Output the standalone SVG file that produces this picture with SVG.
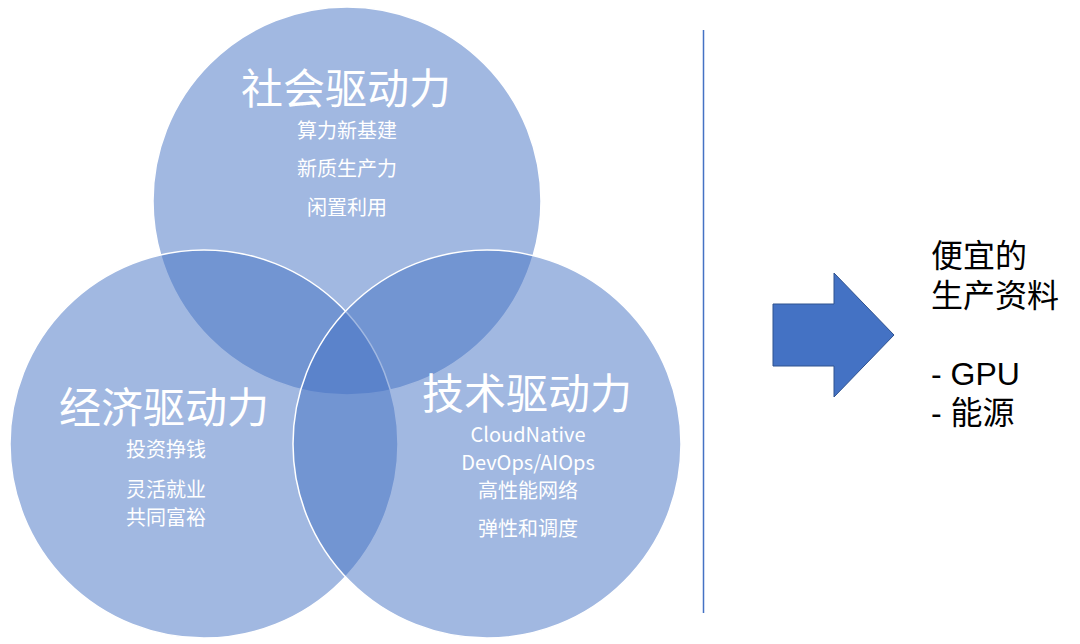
<svg xmlns="http://www.w3.org/2000/svg" width="1080" height="644" viewBox="0 0 1080 644">
<style>
.c{fill:#4472C4;fill-opacity:0.5;stroke:#ffffff;stroke-width:1.5}
.t{font-family:"Noto Sans CJK SC","Liberation Sans",sans-serif;fill:#ffffff;text-anchor:middle}
.big{font-size:42px}
.sm{font-size:20px}
.r{font-family:"Liberation Sans","Noto Sans CJK SC",sans-serif;font-size:32px;fill:#000000}
</style>
<rect width="1080" height="644" fill="#ffffff"/>
<g id="social">
<circle class="c" cx="347" cy="201" r="194"/>
</g>
<g id="economic">
<circle class="c" cx="204" cy="444" r="194"/>
</g>
<g id="tech">
<circle class="c" cx="487" cy="444" r="194"/>
</g>
<g id="labels-social">
<text class="t big" x="346" y="104">社会驱动力</text>
<text class="t sm" x="347" y="138">算力新基建</text>
<text class="t sm" x="347" y="176">新质生产力</text>
<text class="t sm" x="347" y="215">闲置利用</text>
</g>
<g id="labels-economic">
<text class="t big" x="164" y="423">经济驱动力</text>
<text class="t sm" x="166" y="457">投资挣钱</text>
<text class="t sm" x="166" y="497">灵活就业</text>
<text class="t sm" x="166" y="525">共同富裕</text>
</g>
<g id="labels-tech">
<text class="t big" x="527" y="409">技术驱动力</text>
<text class="t sm" x="528" y="442">CloudNative</text>
<text class="t sm" x="528" y="470">DevOps/AIOps</text>
<text class="t sm" x="528" y="498">高性能网络</text>
<text class="t sm" x="528" y="536">弹性和调度</text>
</g>
<g id="connectors">
<line x1="703.5" y1="30" x2="703.5" y2="613" stroke="#4472C4" stroke-width="1.5"/>
<polygon points="773,304 834,304 834,273 894,335 834,397 834,366 773,366" fill="#4472C4" stroke="#2F528F" stroke-width="1"/>
</g>
<g id="result">
<text class="r" x="931" y="267">便宜的</text>
<text class="r" x="931" y="307">生产资料</text>
<text class="r" x="931" y="385">- GPU</text>
<text class="r" x="931" y="424">- 能源</text>
</g>
</svg>
